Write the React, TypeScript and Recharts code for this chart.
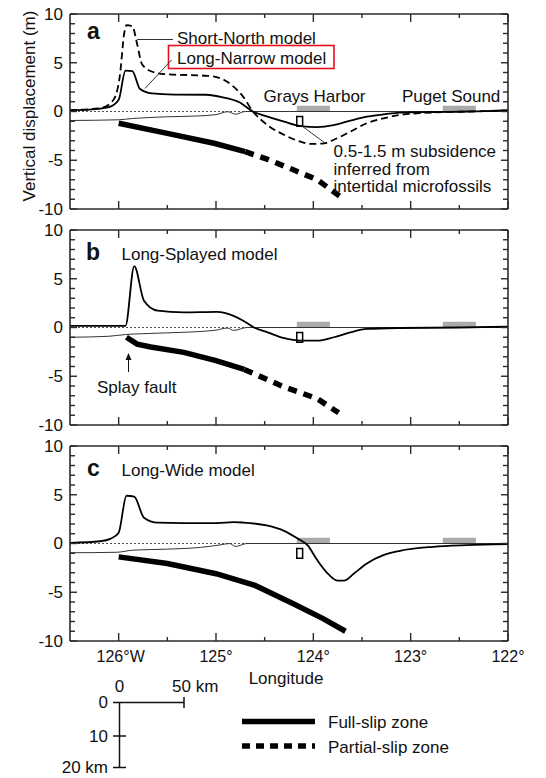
import React from 'react';
import { LineChart, Line, XAxis, YAxis, ReferenceArea, ReferenceLine } from 'recharts';

// longitude (negative = west), displacement in metres
const lonDomain = [-126.5, -122];
const dispDomain = [-10, 10];
const lonTicks = [-126, -125.5, -125, -124.5, -124, -123.5, -123, -122.5, -122];
const dispTicks = [-10, -9, -8, -7, -6, -5, -4, -3, -2, -1, 0, 1, 2, 3, 4, 5, 6, 7, 8, 9, 10];

// panel a
const longNarrowLon = [-126.5, -126.3, -126.1, -126.0, -125.93, -125.86, -125.78, -125.66, -125.43, -125.1, -124.93, -124.76, -124.62, -124.47, -124.3, -124.13, -123.96, -123.79, -123.62, -123.45, -123.28, -123.11, -122.77, -122.4, -122.0];
const longNarrowVal = [0.15, 0.2, 0.45, 1.2, 4.2, 4.15, 2.3, 1.85, 1.73, 1.72, 1.46, 0.95, 0.0, -0.53, -1.05, -1.5, -1.6, -1.4, -0.94, -0.53, -0.3, -0.12, -0.05, 0.0, 0.15];
const shortNorthLon = [-126.5, -126.19, -126.06, -125.99, -125.94, -125.92, -125.86, -125.81, -125.76, -125.66, -125.53, -125.09, -124.93, -124.83, -124.73, -124.62, -124.47, -124.3, -124.13, -124.03, -123.89, -123.79, -123.62, -123.45, -123.28, -123.11, -122.94, -122.77, -122.4, -122.0];
const shortNorthVal = [0.15, 0.34, 1.1, 3.5, 8.2, 8.85, 8.75, 6.9, 4.85, 4.1, 3.83, 3.66, 3.3, 2.64, 1.63, 0.0, -1.4, -2.4, -3.1, -3.33, -3.27, -2.9, -2.07, -1.2, -0.7, -0.36, -0.2, -0.1, 0.0, 0.1];
const profileALon = [-126.5, -126.0, -125.86, -125.52, -125.17, -125.0, -124.88, -124.8, -124.7, -122.0];
const profileAVal = [-0.92, -0.85, -0.72, -0.55, -0.45, -0.32, -0.02, -0.28, 0, 0];
const fullSlipALon = [-126.0, -125.5, -125.02, -124.7];
const fullSlipAVal = [-1.2, -2.24, -3.26, -4.12];
const partialSlipALon = [-124.7, -124.47, -124.2, -123.96, -123.72];
const partialSlipAVal = [-4.12, -4.9, -6.0, -7.0, -8.75];

// panel b
const longSplayedLon = [-126.5, -125.93, -125.84, -125.74, -125.6, -125.33, -124.99, -124.82, -124.72, -124.61, -124.47, -124.3, -124.13, -123.96, -123.79, -123.62, -123.45, -123.11, -122.5, -122.0];
const longSplayedVal = [0.17, 0.17, 6.3, 2.75, 1.73, 1.55, 1.6, 1.2, 0.7, 0.0, -0.5, -1.1, -1.35, -1.35, -1.0, -0.5, -0.15, -0.05, 0.0, 0.1];
const profileBLon = [-126.5, -126.1, -125.93, -125.84, -125.5, -125.02, -124.88, -124.82, -124.68, -122.0];
const profileBVal = [-1.0, -0.9, -0.72, -0.67, -0.55, -0.3, -0.06, -0.3, 0, 0];
const fullSlipBLon = [-125.92, -125.81, -125.67, -125.33, -125.0, -124.71];
const fullSlipBVal = [-1.0, -1.7, -2.0, -2.55, -3.4, -4.3];
const partialSlipBLon = [-124.71, -124.3, -123.96, -123.74];
const partialSlipBVal = [-4.3, -6.1, -7.3, -8.75];

// panel c
const longWideLon = [-126.5, -126.19, -126.08, -126.0, -125.92, -125.84, -125.74, -125.6, -125.33, -124.99, -124.82, -124.72, -124.48, -124.3, -124.16, -124.06, -123.96, -123.84, -123.75, -123.68, -123.58, -123.45, -123.28, -123.11, -122.77, -122.43, -122.0];
const longWideVal = [0.07, 0.23, 0.5, 1.1, 4.9, 4.8, 2.65, 2.14, 2.1, 2.1, 2.2, 2.15, 1.85, 1.3, 0.5, -0.17, -1.7, -3.2, -3.8, -3.8, -3.06, -2.04, -1.2, -0.75, -0.34, -0.17, -0.07];
const profileCLon = [-126.5, -126.02, -125.85, -125.5, -125.16, -124.96, -124.86, -124.8, -124.68, -122.0];
const profileCVal = [-0.95, -0.9, -0.68, -0.58, -0.4, -0.15, 0, -0.3, 0, 0];
const fullSlipCLon = [-126.0, -125.5, -125.0, -124.6, -124.2, -123.9, -123.67];
const fullSlipCVal = [-1.37, -2.05, -3.1, -4.3, -6.2, -7.7, -9.0];

// observations
const graysHarbor = [-124.17, -123.83];
const pugetSound = [-122.67, -122.33];
const barHeight = 0.6;
const obsLon = [-124.17, -124.11];
const obsSubsidence = [-1.5, -0.5];

const pts = (lon: number[], val: number[]) => lon.map((x, i) => ({ lon: x, v: val[i] }));

const FONT = '"Liberation Sans", Arial, Helvetica, sans-serif';
const PLOT_LEFT = 70;
const PLOT_W = 438;
const PLOT_H = 195;
const PANEL_PLOT_TOPS = [14, 230, 446];
const PX_PER_DEG = PLOT_W / (lonDomain[1] - lonDomain[0]);
const PX_PER_M = PLOT_H / (dispDomain[1] - dispDomain[0]);
const lonPx = (lon: number) => PLOT_LEFT + (lon - lonDomain[0]) * PX_PER_DEG;
const dispPx = (top: number, v: number) => top + (dispDomain[1] - v) * PX_PER_M;

const fmtLon = (v: number) => (v === -126 ? '126°W' : `${Math.abs(v)}°`);

function XLabel(props: any) {
  const { x, y, payload } = props;
  if (!props.showLabels || !Number.isInteger(payload.value)) return <g />;
  return (
    <text x={payload.value === -126 ? x + 2 : x} y={y + 21} textAnchor="middle" fontSize={16} fill="#111">
      {fmtLon(payload.value)}
    </text>
  );
}

function YLabel(props: any) {
  const { x, y, payload } = props;
  if (payload.value % 5 !== 0) return <g />;
  return (
    <text x={x - 7} y={y} dy="0.35em" textAnchor="end" fontSize={17} fill="#111">
      {payload.value}
    </text>
  );
}

// box with inward ticks on all four sides (axis frame of one panel)
function PanelBox(props: { top: number }) {
  const top = props.top;
  const right = PLOT_LEFT + PLOT_W;
  const bottom = top + PLOT_H;
  const marks: any[] = [];
  dispTicks.forEach((v) => {
    const len = v % 5 === 0 ? 7 : 5;
    const y = dispPx(top, v);
    marks.push(<line key={`yl${v}`} x1={PLOT_LEFT} x2={PLOT_LEFT + len} y1={y} y2={y} stroke="#2a2a2a" strokeWidth={1.4} />);
    marks.push(<line key={`yr${v}`} x1={right} x2={right - len} y1={y} y2={y} stroke="#2a2a2a" strokeWidth={1.4} />);
  });
  lonTicks.forEach((t) => {
    const len = Number.isInteger(t) ? 8 : 4;
    const x = lonPx(t);
    marks.push(<line key={`xb${t}`} x1={x} x2={x} y1={bottom} y2={bottom - len} stroke="#2a2a2a" strokeWidth={1.4} />);
    marks.push(<line key={`xt${t}`} x1={x} x2={x} y1={top} y2={top + len} stroke="#2a2a2a" strokeWidth={1.4} />);
  });
  return (
    <g>
      <line x1={PLOT_LEFT} y1={top} x2={right} y2={top} stroke="#2a2a2a" strokeWidth={1.6} />
      <line x1={PLOT_LEFT} y1={bottom} x2={right} y2={bottom} stroke="#2a2a2a" strokeWidth={1.6} />
      <line x1={PLOT_LEFT} y1={top} x2={PLOT_LEFT} y2={bottom} stroke="#2a2a2a" strokeWidth={1.6} />
      <line x1={right} y1={top} x2={right} y2={bottom} stroke="#2a2a2a" strokeWidth={1.6} />
      {marks}
    </g>
  );
}

function Panel({ top, height, plotTop, xLabels, children }: any) {
  return (
    <div style={{ position: 'absolute', left: 0, top }}>
      <LineChart
        width={546}
        height={height}
        margin={{ top: plotTop, right: 38, bottom: height - plotTop - PLOT_H - 1, left: 0 }}
      >
        <XAxis xAxisId="b" dataKey="lon" type="number" domain={lonDomain} ticks={lonTicks} interval={0}
          allowDataOverflow height={1} tickSize={0} tickMargin={0} axisLine={false} tickLine={false}
          tick={(p: any) => <XLabel {...p} showLabels={xLabels} />} />
        <YAxis yAxisId="l" type="number" domain={dispDomain} ticks={dispTicks} interval={0} allowDataOverflow
          width={70} tickSize={0} tickMargin={0} axisLine={false} tickLine={false}
          tick={(p: any) => <YLabel {...p} />} />
        <ReferenceLine xAxisId="b" yAxisId="l" y={0} stroke="#222" strokeWidth={0.8} strokeDasharray="2 2" />
        <ReferenceArea xAxisId="b" yAxisId="l" x1={graysHarbor[0]} x2={graysHarbor[1]} y1={0} y2={barHeight} fill="#aaa" fillOpacity={1} stroke="none" />
        <ReferenceArea xAxisId="b" yAxisId="l" x1={pugetSound[0]} x2={pugetSound[1]} y1={0} y2={barHeight} fill="#aaa" fillOpacity={1} stroke="none" />
        {children}
        <ReferenceArea xAxisId="b" yAxisId="l" x1={obsLon[0]} x2={obsLon[1]} y1={obsSubsidence[0]} y2={obsSubsidence[1]} fill="#fff" fillOpacity={1} stroke="#000" strokeWidth={1.5} />
      </LineChart>
    </div>
  );
}

function series(lon: number[], val: number[], stroke: any) {
  return (
    <Line xAxisId="b" yAxisId="l" data={pts(lon, val)} dataKey="v" type="monotone" dot={false} activeDot={false}
      isAnimationActive={false} stroke="#000" {...stroke} />
  );
}

const thin = { strokeWidth: 1, stroke: '#333' };
const model = { strokeWidth: 1.8 };
const dashedModel = { strokeWidth: 1.8, strokeDasharray: '7 4' };
const fullSlip = { strokeWidth: 5.5, type: 'linear' };
const partialSlip = { strokeWidth: 5.5, strokeDasharray: '9 7', type: 'linear' };

export default function App() {
  return (
    <div style={{ position: 'absolute', left: 0, top: 0, width: 546, height: 778, fontFamily: FONT, background: '#fff' }}>
      <Panel top={0} height={220} plotTop={14} xLabels={false}>
        {series(profileALon, profileAVal, thin)}
        {series(shortNorthLon, shortNorthVal, dashedModel)}
        {series(longNarrowLon, longNarrowVal, model)}
        {series(fullSlipALon, fullSlipAVal, fullSlip)}
        {series(partialSlipALon, partialSlipAVal, partialSlip)}
      </Panel>
      <Panel top={220} height={215} plotTop={10} xLabels={false}>
        {series(profileBLon, profileBVal, thin)}
        {series(longSplayedLon, longSplayedVal, model)}
        {series(fullSlipBLon, fullSlipBVal, fullSlip)}
        {series(partialSlipBLon, partialSlipBVal, partialSlip)}
      </Panel>
      <Panel top={435} height={240} plotTop={11} xLabels>
        {series(profileCLon, profileCVal, thin)}
        {series(longWideLon, longWideVal, model)}
        {series(fullSlipCLon, fullSlipCVal, fullSlip)}
      </Panel>

      <svg width={546} height={778} style={{ position: 'absolute', left: 0, top: 0, pointerEvents: 'none' }} fontSize={17} fill="#111">
        <PanelBox top={PANEL_PLOT_TOPS[0]} />
        <PanelBox top={PANEL_PLOT_TOPS[1]} />
        <PanelBox top={PANEL_PLOT_TOPS[2]} />

        <text x={35} y={106} transform="rotate(-90 35 106)" textAnchor="middle">Vertical displacement (m)</text>

        {/* panel a */}
        <text x={87} y={39} fontSize={23} fontWeight="bold">a</text>
        <line x1={137} y1={39.5} x2={173} y2={39.5} stroke="#333" strokeWidth={1} />
        <text x={177} y={43.5}>Short-North model</text>
        <rect x={168.5} y={45.5} width={165.5} height={23} fill="none" stroke="#e8101a" strokeWidth={1.6} />
        <text x={177} y={64}>Long-Narrow model</text>
        <line x1={171.5} y1={60} x2={145} y2={88.5} stroke="#333" strokeWidth={1} />
        <text x={263.5} y={101.5}>Grays Harbor</text>
        <text x={402} y={101.5}>Puget Sound</text>
        <line x1={302} y1={126} x2={325} y2={143} stroke="#333" strokeWidth={1} />
        <text x={333.5} y={157}>0.5-1.5 m subsidence</text>
        <text x={333.5} y={174.5}>inferred from</text>
        <text x={333.5} y={192}>intertidal microfossils</text>

        {/* panel b */}
        <text x={86} y={260} fontSize={23} fontWeight="bold">b</text>
        <text x={121.5} y={259.5}>Long-Splayed model</text>
        <line x1={128.5} y1={372} x2={128.5} y2={358} stroke="#111" strokeWidth={1} />
        <polygon points="128.5,353 125.5,360 131.5,360" fill="#111" />
        <text x={97} y={393}>Splay fault</text>

        {/* panel c */}
        <text x={87} y={476} fontSize={23} fontWeight="bold">c</text>
        <text x={121.5} y={476}>Long-Wide model</text>
        <text x={286} y={684} textAnchor="middle">Longitude</text>

        {/* scale bar */}
        <g stroke="#111" strokeWidth={1.5}>
          <line x1={113} y1={702.5} x2={184} y2={702.5} />
          <line x1={184} y1={697} x2={184} y2={708} />
          <line x1={119.5} y1={702.5} x2={119.5} y2={767.5} />
          <line x1={113} y1={736} x2={126} y2={736} />
          <line x1={113} y1={767.5} x2={126} y2={767.5} />
        </g>
        <text x={119.5} y={692} textAnchor="middle">0</text>
        <text x={172} y={692}>50 km</text>
        <text x={108} y={702.5} dy="0.35em" textAnchor="end">0</text>
        <text x={108} y={736} dy="0.35em" textAnchor="end">10</text>
        <text x={108} y={767.5} dy="0.35em" textAnchor="end">20 km</text>

        {/* legend */}
        <line x1={242} y1={721.5} x2={315} y2={721.5} stroke="#000" strokeWidth={5.5} />
        <text x={328} y={728}>Full-slip zone</text>
        <line x1={242} y1={746} x2={315} y2={746} stroke="#000" strokeWidth={5.5} strokeDasharray="8 6" />
        <text x={328} y={752.5}>Partial-slip zone</text>
      </svg>
    </div>
  );
}
